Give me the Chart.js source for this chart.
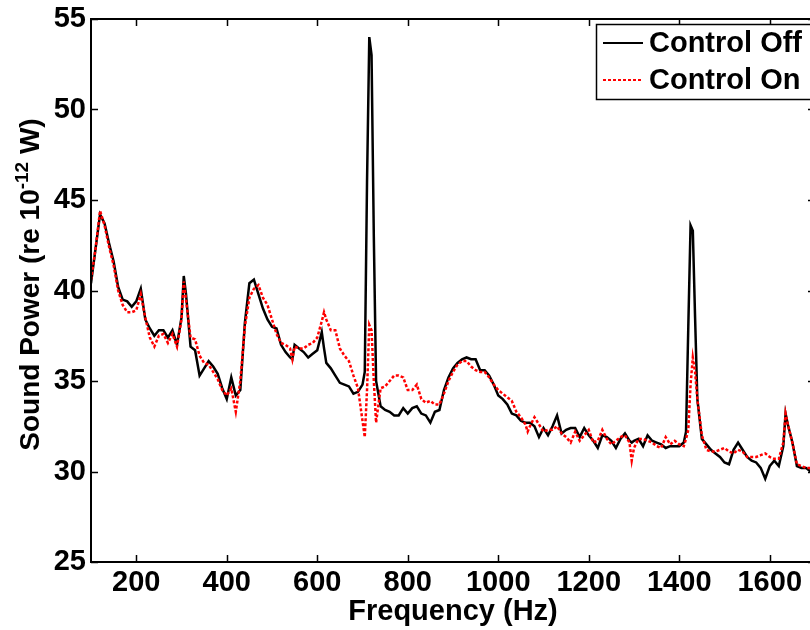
<!DOCTYPE html>
<html>
<head>
<meta charset="utf-8">
<script src="https://cdn.jsdelivr.net/npm/chart.js@4.4.0/dist/chart.umd.min.js"></script>
<style>
html, body { margin: 0; padding: 0; overflow: hidden; background: #fff; }
#wrap { position: absolute; left: 0; top: 0; width: 830px; height: 630px; }
</style>
</head>
<body>
<div id="wrap"><canvas id="chart" width="830" height="630"></canvas></div>
<script>
// Frequency (Hz) samples
const freq = [
  100,110,120,130,140,150,160,170,180,190,
  200,210,220,230,240,250,260,270,280,290,
  300,305,310,320,330,340,350,360,370,380,390,
  400,410,420,430,440,450,460,470,480,490,
  500,510,520,530,540,545,550,560,570,580,590,
  600,610,615,620,630,640,650,660,670,680,690,
  700,705,710,715,720,725,730,740,750,760,770,780,790,
  800,810,820,830,840,850,860,870,880,890,
  900,910,920,930,940,950,960,970,980,990,
  1000,1010,1020,1030,1040,1050,1060,1065,1070,1080,1090,
  1100,1110,1120,1130,1140,1150,1160,1170,1180,1190,
  1200,1210,1220,1230,1240,1250,1260,1270,1280,1290,1295,
  1300,1310,1320,1330,1340,1350,1360,1370,1380,1390,
  1400,1410,1415,1420,1425,1430,1435,1440,1450,1460,1470,1480,1490,
  1500,1510,1520,1530,1540,1550,1560,1570,1580,1590,
  1600,1610,1620,1630,1635,1640,1650,1660,1670,1680,1690,1700
];

const controlOff = [
  40.4,42.3,44.2,43.7,42.6,41.6,40.2,39.5,39.4,39.1,
  39.4,40.1,38.4,37.9,37.5,37.8,37.8,37.4,37.8,37.0,
  38.5,40.8,39.8,36.9,36.7,35.3,35.7,36.1,35.8,35.4,34.6,
  34.0,35.2,34.2,34.5,38.2,40.4,40.6,39.8,39.0,38.4,
  38.0,37.9,37.0,36.6,36.3,36.2,37.0,36.8,36.6,36.3,36.5,
  36.7,37.7,36.8,36.0,35.7,35.3,34.9,34.8,34.7,34.3,34.4,
  34.8,35.5,46.0,54.0,53.0,43.0,35.0,33.6,33.4,33.3,33.1,33.1,33.5,
  33.2,33.5,33.6,33.2,33.1,32.7,33.3,33.4,34.5,35.2,
  35.7,36.0,36.2,36.3,36.2,36.2,35.6,35.6,35.3,34.8,
  34.2,34.0,33.7,33.2,33.1,32.8,32.7,32.7,32.7,32.5,31.9,
  32.4,32.0,32.5,33.1,32.1,32.3,32.4,32.4,31.9,32.4,
  32.0,31.7,31.3,32.0,31.9,31.7,31.3,31.8,32.1,31.7,31.6,
  31.7,31.8,31.4,32.0,31.7,31.6,31.5,31.3,31.4,31.4,
  31.4,31.6,32.2,38.0,43.6,43.3,38.5,34.0,31.8,31.5,31.2,31.0,30.8,
  30.5,30.4,31.2,31.6,31.2,30.8,30.6,30.5,30.2,29.6,
  30.3,30.6,30.3,31.4,33.2,32.6,31.6,30.3,30.2,30.2,30.0,30.0
];

const controlOn = [
  40.6,42.3,44.4,43.6,42.4,41.4,40.0,39.2,38.8,38.8,
  38.9,39.8,38.5,37.4,36.9,37.5,37.6,37.1,37.6,36.9,
  38.4,40.5,39.5,37.4,37.3,36.4,36.0,35.9,35.5,35.1,34.5,
  34.2,34.6,33.3,35.0,38.0,39.6,40.1,40.3,39.6,39.2,
  38.4,37.6,37.1,37.0,36.8,36.2,36.9,36.8,36.8,37.0,37.1,
  37.4,38.3,38.8,38.4,37.8,37.8,36.8,36.4,36.1,35.3,34.6,
  32.8,31.9,34.5,38.1,37.8,35.0,32.7,34.6,34.7,35.0,35.3,35.3,35.2,
  34.5,34.5,34.8,34.0,33.8,33.9,33.7,33.7,34.3,35.0,
  35.5,35.9,36.1,36.1,35.8,35.6,35.5,35.5,35.2,34.8,
  34.5,34.3,34.1,33.9,33.3,33.0,32.6,32.2,32.5,33.0,32.6,
  32.2,32.3,32.3,32.5,32.1,31.9,31.6,32.2,31.7,32.0,
  32.3,31.6,31.7,32.3,31.8,31.5,31.7,31.9,32.0,31.6,30.6,
  31.3,31.8,31.8,31.7,31.6,31.4,31.3,31.9,31.5,31.7,
  31.5,31.4,31.8,32.3,34.8,36.3,35.5,34.0,32.0,31.2,31.1,31.1,31.2,
  31.3,31.1,31.0,31.2,31.1,30.8,30.8,30.8,30.9,31.0,
  30.8,30.7,30.7,31.6,33.2,32.6,31.6,30.4,30.3,30.2,30.2,30.1
];

const seriesNames = ['Control Off', 'Control On'];
const xTicks = [200, 400, 600, 800, 1000, 1200, 1400, 1600];
const yTicks = [25, 30, 35, 40, 45, 50, 55];

const FONT = 'Liberation Sans, Arial, Helvetica, sans-serif';
const FSIZE = 29;
const TICK = 7;

// box round the plot with inward ticks, like matlab
const framePlugin = {
  id: 'frame',
  afterDraw(chart) {
    const ctx = chart.ctx;
    const a = chart.chartArea;
    const xs = chart.scales.x, ys = chart.scales.y;
    ctx.save();
    ctx.strokeStyle = '#000';
    ctx.lineWidth = 2;
    ctx.beginPath();
    ctx.rect(a.left, a.top, a.right - a.left, a.bottom - a.top);
    ctx.stroke();
    ctx.lineWidth = 1.5;
    ctx.beginPath();
    xs.ticks.forEach(t => {
      const px = Math.round(xs.getPixelForValue(t.value)) + 0.5;
      ctx.moveTo(px, a.bottom); ctx.lineTo(px, a.bottom - TICK);
      ctx.moveTo(px, a.top); ctx.lineTo(px, a.top + TICK);
    });
    ys.ticks.forEach(t => {
      const py = Math.round(ys.getPixelForValue(t.value)) + 0.5;
      ctx.moveTo(a.left, py); ctx.lineTo(a.left + TICK, py);
      ctx.moveTo(a.right, py); ctx.lineTo(a.right - TICK, py);
    });
    ctx.stroke();
    ctx.restore();
  }
};

// y title with a real superscript
const yTitlePlugin = {
  id: 'ytitle',
  afterDraw(chart) {
    const ctx = chart.ctx;
    const a = chart.chartArea;
    const big = 'bold 28px ' + FONT;
    const small = 'bold 19px ' + FONT;
    const parts = [['Sound Power (re 10', big, 0], ['-12', small, -11], [' W)', big, 0]];
    ctx.save();
    ctx.translate(39, (a.top + a.bottom) / 2 - 6);
    ctx.rotate(-Math.PI / 2);
    ctx.fillStyle = '#000';
    ctx.textBaseline = 'alphabetic';
    ctx.textAlign = 'left';
    let total = 0;
    parts.forEach(p => { ctx.font = p[1]; total += ctx.measureText(p[0]).width; });
    let x = -total / 2;
    parts.forEach(p => {
      ctx.font = p[1];
      ctx.fillText(p[0], x, p[2]);
      x += ctx.measureText(p[0]).width;
    });
    ctx.restore();
  }
};

// legend box in the top right corner
const legendPlugin = {
  id: 'boxlegend',
  afterDraw(chart) {
    const ctx = chart.ctx;
    const a = chart.chartArea;
    const left = 596, top = 24, right = a.right - 4, bottom = 99;
    ctx.save();
    ctx.fillStyle = '#fff';
    ctx.fillRect(left, top, right - left, bottom - top);
    ctx.strokeStyle = '#000';
    ctx.lineWidth = 1.5;
    ctx.strokeRect(left + 0.5, top + 0.5, right - left, bottom - top);
    ctx.font = 'bold ' + FSIZE + 'px ' + FONT;
    ctx.textBaseline = 'middle';
    chart.data.datasets.forEach((ds, i) => {
      const y = 43 + i * 37;
      ctx.strokeStyle = ds.borderColor;
      ctx.lineWidth = 2;
      ctx.setLineDash(ds.borderDash || []);
      ctx.beginPath();
      ctx.moveTo(603, y); ctx.lineTo(643, y);
      ctx.stroke();
      ctx.setLineDash([]);
      ctx.fillStyle = '#000';
      ctx.fillText(ds.label, 649, y + 1);
    });
    ctx.restore();
  }
};

new Chart(document.getElementById('chart'), {
  type: 'line',
  data: {
    datasets: [
      {
        label: seriesNames[0],
        data: freq.map((f, i) => ({ x: f, y: controlOff[i] })),
        borderColor: '#000000',
        borderWidth: 2.5,
        pointRadius: 0,
        tension: 0,
        order: 1
      },
      {
        label: seriesNames[1],
        data: freq.map((f, i) => ({ x: f, y: controlOn[i] })),
        borderColor: '#ff0000',
        borderWidth: 2.5,
        borderDash: [3, 2],
        pointRadius: 0,
        tension: 0,
        order: 0
      }
    ]
  },
  options: {
    responsive: false,
    animation: false,
    layout: { padding: { top: 19, right: 15, left: 0, bottom: 0 } },
    plugins: { legend: { display: false }, tooltip: { enabled: false } },
    scales: {
      x: {
        type: 'linear',
        min: 100,
        max: 1700,
        afterBuildTicks: s => { s.ticks = xTicks.map(v => ({ value: v })); },
        afterFit: s => { s.height = 68; s.paddingLeft = 0; s.paddingRight = 0; },
        grid: { display: false, drawTicks: false },
        border: { display: false },
        ticks: {
          color: '#000',
          padding: 4,
          maxRotation: 0,
          font: { family: FONT, size: FSIZE, weight: 'bold' },
          callback: v => String(v)
        },
        title: {
          display: true,
          text: 'Frequency (Hz)',
          color: '#000',
          padding: { top: 0, bottom: 1 },
          font: { family: FONT, size: FSIZE, weight: 'bold' }
        }
      },
      y: {
        min: 25,
        max: 55,
        afterBuildTicks: s => { s.ticks = yTicks.map(v => ({ value: v })); },
        afterFit: s => { s.width = 91; s.paddingTop = 0; s.paddingBottom = 0; },
        grid: { display: false, drawTicks: false },
        border: { display: false },
        ticks: {
          color: '#000',
          padding: 5,
          font: { family: FONT, size: FSIZE, weight: 'bold' },
          callback: v => String(v)
        }
      }
    }
  },
  plugins: [framePlugin, yTitlePlugin, legendPlugin]
});
</script>
</body>
</html>
